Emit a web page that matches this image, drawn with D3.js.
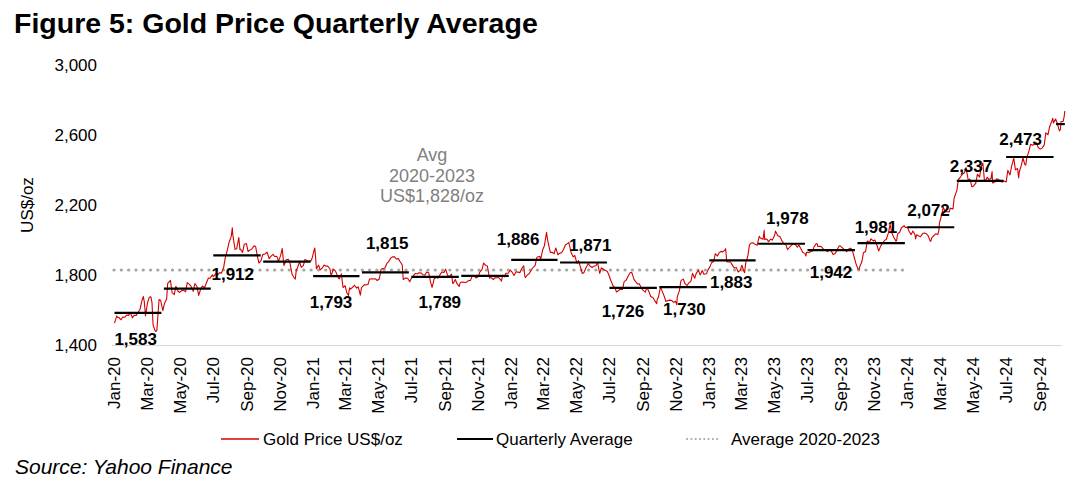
<!DOCTYPE html>
<html>
<head>
<meta charset="utf-8">
<script src="https://cdn.jsdelivr.net/npm/d3@7"></script>
<style>
  html, body { margin: 0; padding: 0; background: #fff; }
  svg { display: block; font-family: "Liberation Sans", Arial, Helvetica, sans-serif; }
</style>
</head>
<body>
<svg id="chart" width="1089" height="484"></svg>
<script>
// ---------------- DATA ----------------
const priceDates = [
"2020-01-02","2020-01-06","2020-01-08","2020-01-10","2020-01-14","2020-01-17","2020-01-21","2020-01-24","2020-01-28","2020-01-31",
"2020-02-04","2020-02-07","2020-02-11","2020-02-14","2020-02-18","2020-02-21","2020-02-24","2020-02-26","2020-02-28",
"2020-03-03","2020-03-06","2020-03-09","2020-03-11","2020-03-13","2020-03-16","2020-03-18","2020-03-20","2020-03-24","2020-03-27","2020-03-31",
"2020-04-03","2020-04-07","2020-04-09","2020-04-14","2020-04-17","2020-04-21","2020-04-24","2020-04-28",
"2020-05-01","2020-05-05","2020-05-08","2020-05-12","2020-05-15","2020-05-19","2020-05-22","2020-05-26","2020-05-29",
"2020-06-02","2020-06-05","2020-06-09","2020-06-12","2020-06-16","2020-06-19","2020-06-23","2020-06-26","2020-06-30",
"2020-07-02","2020-07-07","2020-07-10","2020-07-14","2020-07-17","2020-07-21","2020-07-24","2020-07-28","2020-07-31",
"2020-08-04","2020-08-06","2020-08-07","2020-08-11","2020-08-14","2020-08-18","2020-08-20","2020-08-21","2020-08-25","2020-08-28",
"2020-09-01","2020-09-04","2020-09-08","2020-09-11","2020-09-15","2020-09-18","2020-09-21","2020-09-24","2020-09-28",
"2020-10-01","2020-10-05","2020-10-09","2020-10-13","2020-10-16","2020-10-20","2020-10-23","2020-10-27","2020-10-30",
"2020-11-03","2020-11-06","2020-11-09","2020-11-11","2020-11-13","2020-11-17","2020-11-20","2020-11-24","2020-11-27","2020-11-30",
"2020-12-02","2020-12-04","2020-12-08","2020-12-11","2020-12-15","2020-12-18","2020-12-21","2020-12-24","2020-12-29","2020-12-31",
"2021-01-04","2021-01-05","2021-01-06","2021-01-08","2021-01-12","2021-01-15","2021-01-19","2021-01-22","2021-01-26","2021-01-29",
"2021-02-02","2021-02-04","2021-02-08","2021-02-12","2021-02-16","2021-02-19","2021-02-23","2021-02-26",
"2021-03-02","2021-03-05","2021-03-08","2021-03-10","2021-03-12","2021-03-16","2021-03-19","2021-03-23","2021-03-26","2021-03-30",
"2021-04-01","2021-04-06","2021-04-09","2021-04-13","2021-04-16","2021-04-20","2021-04-23","2021-04-27","2021-04-30",
"2021-05-04","2021-05-07","2021-05-11","2021-05-14","2021-05-18","2021-05-21","2021-05-25","2021-05-28",
"2021-06-01","2021-06-04","2021-06-08","2021-06-11","2021-06-15","2021-06-17","2021-06-21","2021-06-25","2021-06-29",
"2021-07-01","2021-07-06","2021-07-09","2021-07-13","2021-07-16","2021-07-20","2021-07-23","2021-07-27","2021-07-30",
"2021-08-03","2021-08-06","2021-08-09","2021-08-11","2021-08-13","2021-08-17","2021-08-20","2021-08-24","2021-08-27","2021-08-31",
"2021-09-03","2021-09-07","2021-09-10","2021-09-14","2021-09-16","2021-09-17","2021-09-21","2021-09-24","2021-09-28","2021-09-30",
"2021-10-01","2021-10-05","2021-10-08","2021-10-12","2021-10-15","2021-10-19","2021-10-22","2021-10-26","2021-10-29",
"2021-11-02","2021-11-05","2021-11-09","2021-11-12","2021-11-16","2021-11-19","2021-11-23","2021-11-26","2021-11-30",
"2021-12-03","2021-12-07","2021-12-10","2021-12-14","2021-12-15","2021-12-17","2021-12-21","2021-12-23","2021-12-28","2021-12-31",
"2022-01-04","2022-01-07","2022-01-11","2022-01-14","2022-01-18","2022-01-21","2022-01-25","2022-01-27","2022-01-28",
"2022-02-01","2022-02-04","2022-02-08","2022-02-11","2022-02-15","2022-02-18","2022-02-22","2022-02-24","2022-02-25",
"2022-03-01","2022-03-04","2022-03-08","2022-03-10","2022-03-11","2022-03-15","2022-03-18","2022-03-22","2022-03-25","2022-03-29",
"2022-04-01","2022-04-05","2022-04-08","2022-04-12","2022-04-14","2022-04-18","2022-04-22","2022-04-26","2022-04-29",
"2022-05-03","2022-05-06","2022-05-10","2022-05-13","2022-05-16","2022-05-20","2022-05-24","2022-05-27","2022-05-31",
"2022-06-03","2022-06-07","2022-06-10","2022-06-14","2022-06-17","2022-06-21","2022-06-24","2022-06-28","2022-06-30",
"2022-07-05","2022-07-08","2022-07-12","2022-07-15","2022-07-19","2022-07-21","2022-07-26","2022-07-29",
"2022-08-02","2022-08-05","2022-08-09","2022-08-12","2022-08-16","2022-08-19","2022-08-23","2022-08-26","2022-08-30",
"2022-09-02","2022-09-06","2022-09-09","2022-09-13","2022-09-16","2022-09-20","2022-09-23","2022-09-27","2022-09-28","2022-09-30",
"2022-10-04","2022-10-07","2022-10-11","2022-10-14","2022-10-18","2022-10-21","2022-10-25","2022-10-28",
"2022-11-01","2022-11-03","2022-11-04","2022-11-08","2022-11-10","2022-11-11","2022-11-15","2022-11-18","2022-11-22","2022-11-25","2022-11-29",
"2022-12-02","2022-12-06","2022-12-09","2022-12-13","2022-12-16","2022-12-20","2022-12-23","2022-12-28","2022-12-30",
"2023-01-03","2023-01-06","2023-01-10","2023-01-13","2023-01-17","2023-01-20","2023-01-24","2023-01-26","2023-01-31",
"2023-02-01","2023-02-02","2023-02-03","2023-02-07","2023-02-10","2023-02-14","2023-02-17","2023-02-21","2023-02-24","2023-02-28",
"2023-03-03","2023-03-07","2023-03-08","2023-03-10","2023-03-14","2023-03-17","2023-03-20","2023-03-24","2023-03-28","2023-03-31",
"2023-04-04","2023-04-06","2023-04-11","2023-04-13","2023-04-14","2023-04-18","2023-04-21","2023-04-25","2023-04-28",
"2023-05-02","2023-05-04","2023-05-08","2023-05-12","2023-05-16","2023-05-19","2023-05-23","2023-05-26","2023-05-30",
"2023-06-02","2023-06-06","2023-06-09","2023-06-13","2023-06-16","2023-06-20","2023-06-23","2023-06-27","2023-06-29","2023-06-30",
"2023-07-05","2023-07-07","2023-07-11","2023-07-14","2023-07-18","2023-07-20","2023-07-21","2023-07-25","2023-07-28",
"2023-08-01","2023-08-04","2023-08-08","2023-08-11","2023-08-15","2023-08-18","2023-08-22","2023-08-25","2023-08-29","2023-08-31",
"2023-09-05","2023-09-08","2023-09-12","2023-09-15","2023-09-19","2023-09-22","2023-09-26","2023-09-29",
"2023-10-03","2023-10-05","2023-10-06","2023-10-10","2023-10-13","2023-10-17","2023-10-20","2023-10-24","2023-10-27","2023-10-31",
"2023-11-03","2023-11-07","2023-11-10","2023-11-14","2023-11-17","2023-11-21","2023-11-24","2023-11-28",
"2023-12-01","2023-12-04","2023-12-08","2023-12-12","2023-12-13","2023-12-15","2023-12-19","2023-12-22","2023-12-27","2023-12-29",
"2024-01-02","2024-01-05","2024-01-09","2024-01-12","2024-01-16","2024-01-17","2024-01-19","2024-01-23","2024-01-26","2024-01-30",
"2024-02-02","2024-02-06","2024-02-09","2024-02-13","2024-02-14","2024-02-16","2024-02-20","2024-02-23","2024-02-27","2024-02-29",
"2024-03-01","2024-03-05","2024-03-08","2024-03-12","2024-03-15","2024-03-19","2024-03-21","2024-03-26","2024-03-28",
"2024-04-02","2024-04-05","2024-04-09","2024-04-12","2024-04-16","2024-04-19","2024-04-23","2024-04-26","2024-04-30",
"2024-05-03","2024-05-07","2024-05-10","2024-05-14","2024-05-17","2024-05-20","2024-05-23","2024-05-24","2024-05-28","2024-05-31",
"2024-06-04","2024-06-06","2024-06-07","2024-06-11","2024-06-14","2024-06-18","2024-06-21","2024-06-25","2024-06-28",
"2024-07-02","2024-07-05","2024-07-09","2024-07-12","2024-07-16","2024-07-19","2024-07-23","2024-07-25","2024-07-26","2024-07-30",
"2024-08-02","2024-08-05","2024-08-07","2024-08-09","2024-08-13","2024-08-16","2024-08-20","2024-08-23","2024-08-27","2024-08-30",
"2024-09-03","2024-09-06","2024-09-10","2024-09-13","2024-09-17","2024-09-20","2024-09-24","2024-09-26","2024-09-27",
"2024-10-01","2024-10-04","2024-10-08","2024-10-10","2024-10-11","2024-10-15","2024-10-17","2024-10-18"
];
const priceValues = [
1525,1566,1557,1557,1544,1560,1558,1571,1569,1587,
1555,1570,1569,1584,1604,1648,1677,1643,1566,
1644,1672,1675,1642,1516,1486,1477,1484,1660,1654,1596,
1637,1663,1752,1769,1699,1688,1735,1707,
1700,1711,1713,1704,1756,1746,1735,1706,1751,
1734,1683,1721,1737,1727,1753,1782,1781,1800,
1790,1809,1801,1813,1810,1842,1897,1944,1986,
2020,2069,2028,1946,1949,2013,1946,1947,1929,1975,
1979,1934,1943,1948,1966,1962,1910,1868,1882,
1916,1920,1930,1892,1906,1917,1905,1907,1879,
1910,1951,1854,1866,1886,1889,1872,1805,1788,1776,
1830,1840,1875,1843,1855,1888,1882,1878,1880,1895,
1944,1954,1918,1835,1856,1829,1840,1856,1850,1850,
1834,1793,1833,1823,1793,1777,1806,1728,
1738,1698,1683,1727,1719,1731,1741,1725,1732,1685,
1728,1743,1743,1745,1777,1778,1777,1778,1768,
1778,1832,1836,1838,1867,1876,1897,1903,
1903,1891,1893,1877,1858,1774,1782,1781,1761,
1776,1796,1808,1807,1812,1811,1801,1799,1817,
1812,1763,1729,1752,1778,1787,1781,1803,1817,1814,
1833,1795,1792,1804,1754,1751,1774,1750,1734,1756,
1758,1760,1757,1759,1767,1769,1796,1792,1783,
1789,1816,1830,1868,1854,1851,1782,1785,1774,
1783,1784,1784,1771,1764,1798,1789,1809,1811,1828,
1814,1797,1818,1816,1813,1835,1852,1793,1785,
1801,1807,1828,1842,1853,1899,1906,1904,1887,
1944,1966,2043,2000,1985,1929,1929,1921,1954,1915,
1923,1928,1944,1972,1974,1986,1931,1903,1911,
1867,1882,1839,1808,1814,1842,1865,1851,1842,
1850,1852,1871,1809,1840,1832,1827,1820,1807,
1764,1742,1725,1703,1711,1717,1717,1762,
1771,1791,1812,1815,1776,1762,1748,1749,1723,
1712,1702,1728,1702,1677,1671,1655,1636,1660,1672,
1730,1709,1677,1648,1654,1656,1654,1644,
1649,1630,1676,1712,1755,1769,1776,1751,1740,1754,1763,
1809,1781,1810,1826,1800,1825,1804,1807,1826,
1846,1869,1877,1921,1908,1926,1935,1930,1942,
1950,1915,1876,1874,1874,1853,1840,1842,1817,1827,
1855,1818,1813,1867,1909,1973,1982,1983,1973,1969,
2020,2011,2003,2055,2003,2005,1990,2004,1999,
2023,2050,2024,2019,1993,1981,1974,1944,1958,
1969,1977,1977,1958,1970,1948,1929,1923,1908,1929,
1927,1932,1937,1960,1979,1977,1962,1964,1959,
1944,1942,1933,1946,1935,1916,1922,1940,1965,1966,
1953,1942,1933,1946,1953,1945,1901,1866,
1834,1831,1845,1875,1927,1934,1994,1987,2006,1994,
1999,1968,1937,1966,1981,1998,2002,2040,
2089,2042,2014,1993,1996,2034,2045,2069,2081,2071,
2073,2049,2030,2051,2029,2006,2029,2022,2018,2036,
2039,2035,2025,1993,1992,2013,2025,2035,2031,2054,
2096,2141,2185,2161,2161,2160,2181,2177,2238,
2281,2345,2360,2374,2383,2413,2342,2347,2303,
2308,2324,2375,2358,2419,2438,2337,2334,2357,2345,
2350,2390,2325,2331,2348,2346,2334,2330,2336,
2331,2397,2371,2421,2467,2400,2407,2353,2386,2427,
2470,2433,2426,2470,2508,2546,2540,2546,2554,2527,
2518,2524,2541,2611,2600,2646,2677,2694,2667,
2690,2667,2622,2630,2676,2676,2707,2736
];

const quarterStarts = ["2020-01-01","2020-04-01","2020-07-01","2020-10-01","2021-01-01","2021-04-01","2021-07-01","2021-10-01",
  "2022-01-01","2022-04-01","2022-07-01","2022-10-01","2023-01-01","2023-04-01","2023-07-01","2023-10-01",
  "2024-01-01","2024-04-01","2024-07-01","2024-10-01"];
const quarterAverages = [1583,1722,1912,1876,1793,1815,1789,1795,1886,1871,1726,1730,1883,1978,1942,1981,2072,2337,2473,2661];
const quarterLabels = ["1,583","","1,912","","1,793","1,815","1,789","","1,886","1,871","1,726","1,730","1,883","1,978","1,942","1,981","2,072","2,337","2,473",""];

const average2020to2023 = 1828;
const avgPeriod = ["2020-01-01","2023-12-29"];

const yTicks = [1400,1800,2200,2600,3000];
const xTickStart = "2020-01-01", xTickEnd = "2024-09-01";

// ---------------- LAYOUT (styling only) ----------------
// label offsets from segment centre [dx, dy]
const labelOffsets = [[-2,26],[0,0],[-4,19],[0,0],[-5,25.5],[2,-29],[5,25],[0,0],[-16,-21],[7,-17.5],
  [-10,23],[1.5,22],[-1,21.5],[6,-25.5],[0,22.5],[-5,-16],[-2,-17.5],[-9,-15],[-9,-18],[0,0]];

const parse = d3.utcParse("%Y-%m-%d");
const svg = d3.select("#chart");
const W = 1089, H = 484;
svg.append("rect").attr("width", W).attr("height", H).attr("fill", "#fff");

const x = d3.scaleUtc()
  .domain([parse("2020-01-01"), parse("2024-10-18")])
  .range([114, 1064.8]);
const y = d3.scaleLinear().domain([1400, 3000]).range([345, 64.7]);

const FONT = '"Liberation Sans", Arial, Helvetica, sans-serif';

// Title
svg.append("text").attr("x", 14).attr("y", 33)
  .attr("font-size", 28.5).attr("font-weight", "bold").attr("fill", "#000")
  .text("Figure 5: Gold Price Quarterly Average");

// Y axis (labels only)
const yAxis = d3.axisLeft(y).tickValues(yTicks).tickFormat(d3.format(",")).tickSize(0).tickPadding(0);
const yg = svg.append("g").attr("transform", "translate(97,0)").call(yAxis);
yg.select(".domain").remove();
yg.selectAll("text").attr("font-size", 17).attr("font-family", FONT).attr("fill", "#000");

// Y axis title
svg.append("text").attr("transform", "translate(33,205) rotate(-90)")
  .attr("text-anchor", "middle").attr("font-size", 17).attr("fill", "#000").text("US$/oz");

// X axis
const xTicks = d3.utcMonth.every(2).range(parse(xTickStart), d3.utcDay.offset(parse(xTickEnd), 1));
const xAxis = d3.axisBottom(x).tickValues(xTicks).tickFormat(d3.utcFormat("%b-%y")).tickSize(0).tickPadding(0);
const xg = svg.append("g").attr("transform", "translate(0,345)").call(xAxis);
xg.select(".domain").remove();
xg.selectAll("text")
  .attr("font-size", 17).attr("font-family", FONT).attr("fill", "#000")
  .attr("text-anchor", "end")
  .attr("transform", "translate(0,12) rotate(-90)")
  .attr("x", 0).attr("y", 0).attr("dy", "0.35em");
svg.append("line").attr("x1", 112).attr("x2", 1062).attr("y1", 345.5).attr("y2", 345.5)
  .attr("stroke", "#d9d9d9").attr("stroke-width", 1);

// Average dotted line
svg.append("line")
  .attr("x1", x(parse(avgPeriod[0]))).attr("x2", x(parse(avgPeriod[1])))
  .attr("y1", y(average2020to2023)).attr("y2", y(average2020to2023))
  .attr("stroke", "#a6a6a6").attr("stroke-width", 3.2)
  .attr("stroke-linecap", "round").attr("stroke-dasharray", "0.1,7.2");

// Avg annotation
const ann = svg.append("text").attr("text-anchor", "middle").attr("font-size", 18).attr("fill", "#7f7f7f");
["Avg", "2020-2023", "US$" + d3.format(",")(average2020to2023) + "/oz"].forEach((t, i) => {
  ann.append("tspan").attr("x", 432).attr("y", 161 + i * 20.5).text(t);
});

// Gold price line
const series = priceDates.map((d, i) => ({ date: parse(d), value: priceValues[i] }));
svg.append("path").datum(series)
  .attr("fill", "none").attr("stroke", "#d40000").attr("stroke-width", 1.1).attr("stroke-linejoin", "round")
  .attr("d", d3.line().x(d => x(d.date)).y(d => y(d.value)));

// Quarterly averages
const lastDate = parse(priceDates[priceDates.length - 1]);
const quarters = quarterStarts.map((s, i) => {
  const start = parse(s);
  const end = i < quarterStarts.length - 1 ? parse(quarterStarts[i + 1]) : lastDate;
  return { start, end, value: quarterAverages[i], label: quarterLabels[i], off: labelOffsets[i], last: i === quarterStarts.length - 1 };
});
svg.append("g").selectAll("line").data(quarters).join("line")
  .attr("x1", d => x(d.start) + 0.5)
  .attr("x2", d => d.last ? x(d.end) : x(d.end) - 2)
  .attr("y1", d => y(d.value)).attr("y2", d => y(d.value))
  .attr("stroke", "#000").attr("stroke-width", 2.2);

svg.append("g").selectAll("text").data(quarters.filter(d => d.label)).join("text")
  .attr("x", d => (x(d.start) + x(d.end) - 2) / 2 + d.off[0])
  .attr("y", d => y(d.value) + d.off[1])
  .attr("dy", "0.35em").attr("text-anchor", "middle")
  .attr("font-size", 17).attr("font-weight", "bold").attr("fill", "#000")
  .text(d => d.label);

// Legend
const lg = svg.append("g").attr("font-size", 17).attr("fill", "#000");
const ly = 439;
lg.append("line").attr("x1", 221).attr("x2", 259).attr("y1", ly).attr("y2", ly).attr("stroke", "#d40000").attr("stroke-width", 1.3);
lg.append("text").attr("x", 263).attr("y", ly).attr("dy", "0.35em").text("Gold Price US$/oz");
lg.append("line").attr("x1", 457).attr("x2", 493).attr("y1", ly).attr("y2", ly).attr("stroke", "#000").attr("stroke-width", 2);
lg.append("text").attr("x", 496).attr("y", ly).attr("dy", "0.35em").text("Quarterly Average");
lg.append("line").attr("x1", 687).attr("x2", 720).attr("y1", ly).attr("y2", ly)
  .attr("stroke", "#a6a6a6").attr("stroke-width", 2).attr("stroke-linecap", "round").attr("stroke-dasharray", "0.1,4.2");
lg.append("text").attr("x", 731).attr("y", ly).attr("dy", "0.35em").text("Average 2020-2023");

// Source
svg.append("text").attr("x", 15).attr("y", 474).attr("font-size", 21).attr("font-style", "italic").attr("fill", "#000")
  .text("Source: Yahoo Finance");
</script>
</body>
</html>
